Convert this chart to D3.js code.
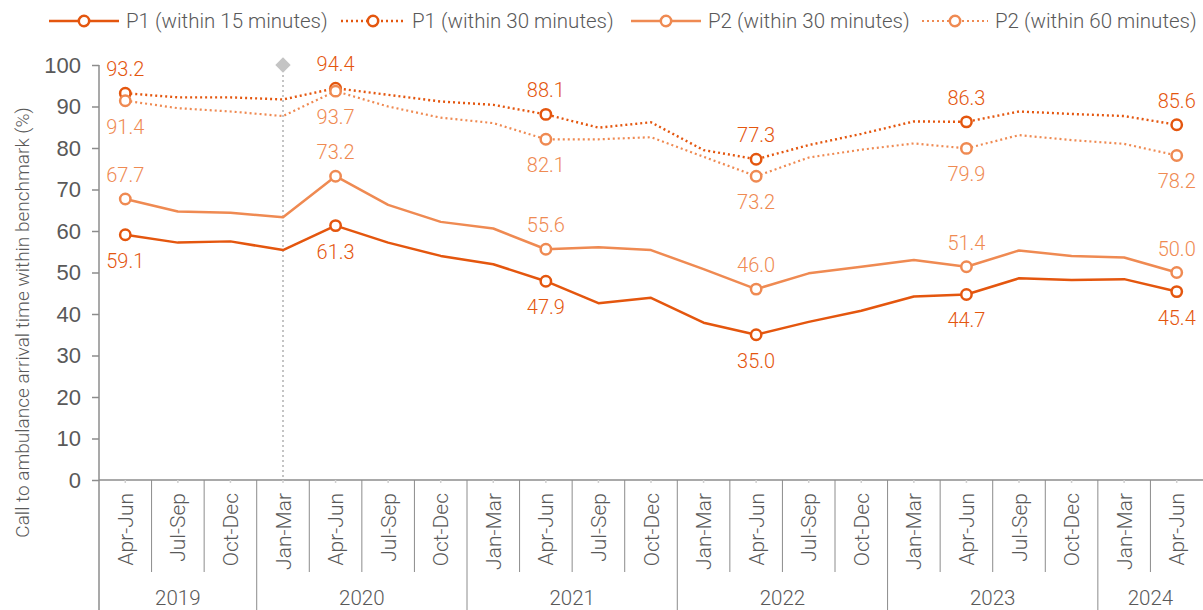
<!DOCTYPE html>
<html>
<head>
<meta charset="utf-8">
<script src="https://cdn.jsdelivr.net/npm/d3@7"></script>
<style>
  html, body { margin: 0; padding: 0; background: #fff; }
  svg { display: block; font-family: Roboto, "Liberation Sans", Arial, sans-serif; font-weight: 300; }
</style>
</head>
<body>
<div id="chart"></div>
<script>
"use strict";

// ── data ─────────────────────────────────────────────────────────────────────
const quarterLabels = [
  "Apr-Jun", "Jul-Sep", "Oct-Dec",
  "Jan-Mar", "Apr-Jun", "Jul-Sep", "Oct-Dec",
  "Jan-Mar", "Apr-Jun", "Jul-Sep", "Oct-Dec",
  "Jan-Mar", "Apr-Jun", "Jul-Sep", "Oct-Dec",
  "Jan-Mar", "Apr-Jun", "Jul-Sep", "Oct-Dec",
  "Jan-Mar", "Apr-Jun",
];
const yearLabels      = ["2019", "2020", "2021", "2022", "2023", "2024"];
const quartersPerYear = [3, 4, 4, 4, 4, 2];

const p1Within15 = [59.1, 57.2, 57.5, 55.4, 61.3, 57.2, 54.0, 52.0, 47.9, 42.6, 43.9,
                    37.9, 35.0, 38.1, 40.8, 44.2, 44.7, 48.6, 48.2, 48.4, 45.4];
const p1Within30 = [93.2, 92.2, 92.2, 91.7, 94.4, 92.8, 91.2, 90.4, 88.1, 84.9, 86.2,
                    79.5, 77.3, 80.7, 83.4, 86.4, 86.3, 88.8, 88.2, 87.7, 85.6];
const p2Within30 = [67.7, 64.7, 64.4, 63.3, 73.2, 66.3, 62.2, 60.6, 55.6, 56.1, 55.4,
                    50.8, 46.0, 49.8, 51.4, 53.0, 51.4, 55.3, 54.0, 53.6, 50.0];
const p2Within60 = [91.4, 89.6, 88.8, 87.7, 93.7, 90.0, 87.3, 86.0, 82.1, 82.1, 82.6,
                    77.9, 73.2, 77.7, 79.6, 81.1, 79.9, 83.1, 81.9, 81.0, 78.2];

const labelledIdx   = [0, 4, 8, 12, 16, 20];   // Apr-Jun each year
const markerLineIdx = 3;                        // Jan-Mar 2020 reference line
const yTicks = [0, 10, 20, 30, 40, 50, 60, 70, 80, 90, 100];

const P1_COLOR = "#e4560e";
const P2_COLOR = "#ef8a52";

const series = [
  { name: "P1 (within 15 minutes)", values: p1Within15, color: P1_COLOR, dash: null,  labelPos: "below", width: 2.5 },
  { name: "P1 (within 30 minutes)", values: p1Within30, color: P1_COLOR, dash: "2,3", labelPos: "above", width: 2.4 },
  { name: "P2 (within 30 minutes)", values: p2Within30, color: P2_COLOR, dash: null,  labelPos: "above", width: 2.5 },
  { name: "P2 (within 60 minutes)", values: p2Within60, color: P2_COLOR, dash: "2,3", labelPos: "below", width: 2.2 },
];

// ── layout ───────────────────────────────────────────────────────────────────
const W = 1203, H = 610;
const margin = { left: 99, right: 0, top: 65, axisY: 480 };
const AXIS_GREY = "#8c8c8c";
const TEXT_GREY = "#595959";

const svg = d3.select("#chart").append("svg")
  .attr("width", W).attr("height", H)
  .attr("viewBox", `0 0 ${W} ${H}`);

const idx = quarterLabels.map((_, i) => i);
const x = d3.scaleBand().domain(idx).range([margin.left, W - margin.right]).padding(0);
const cx = i => x(i) + x.bandwidth() / 2;
const y = d3.scaleLinear().domain([0, 100]).range([margin.axisY, margin.top]);

// ── reference line (Jan-Mar 2020) ────────────────────────────────────────────
svg.append("line")
  .attr("x1", cx(markerLineIdx)).attr("x2", cx(markerLineIdx))
  .attr("y1", y(100)).attr("y2", y(0))
  .attr("stroke", "#c4c4c4").attr("stroke-width", 2)
  .attr("stroke-dasharray", "2,3");
svg.append("path")
  .attr("d", d3.symbol().type(d3.symbolDiamond2).size(150)())
  .attr("transform", `translate(${cx(markerLineIdx)},${y(100)})`)
  .attr("fill", "#c4c4c4");

// ── y axis ───────────────────────────────────────────────────────────────────
svg.append("g")
  .attr("transform", `translate(${margin.left},0)`)
  .call(d3.axisLeft(y).tickValues(yTicks).tickSize(7).tickPadding(11).tickFormat(d3.format("d")))
  .call(ax => {
    ax.select(".domain").attr("stroke", AXIS_GREY).attr("stroke-width", 1.5)
      .attr("d", `M0,${y(100)}V${H}`);
    ax.selectAll(".tick line").attr("stroke", AXIS_GREY).attr("stroke-width", 1.5);
    ax.selectAll("text").attr("fill", TEXT_GREY).attr("font-size", 22)
      .attr("font-family", null);
  });

svg.append("text")
  .attr("transform", `translate(29,${(y(0) + y(100)) / 2 + 50}) rotate(-90)`)
  .attr("text-anchor", "middle")
  .attr("fill", TEXT_GREY).attr("font-size", 19)
  .text("Call to ambulance arrival time within benchmark (%)");

// ── x axis (two-level categories) ────────────────────────────────────────────
svg.append("g")
  .attr("transform", `translate(0,${margin.axisY})`)
  .call(d3.axisBottom(x).tickSize(3).tickFormat(""))
  .call(ax => {
    ax.select(".domain").attr("stroke", AXIS_GREY).attr("stroke-width", 1.5)
      .attr("d", `M${margin.left},0H${W}`);
    ax.selectAll(".tick line").attr("stroke", "#d0d0d0").attr("stroke-width", 1.5);
  });

// quarter separators
const yearStarts = d3.cumsum([0, ...quartersPerYear]).slice(0, -1);
svg.append("g").selectAll("line")
  .data(idx.filter(i => i > 0))
  .join("line")
  .attr("x1", i => x(i)).attr("x2", i => x(i))
  .attr("y1", margin.axisY)
  .attr("y2", i => yearStarts.includes(i) ? H : 572)
  .attr("stroke", AXIS_GREY).attr("stroke-width", 1);

// quarter labels
svg.append("g").selectAll("text")
  .data(idx)
  .join("text")
  .attr("transform", i => `translate(${cx(i) + 7.5},493) rotate(-90)`)
  .attr("text-anchor", "end")
  .attr("fill", TEXT_GREY).attr("font-size", 21)
  .text(i => quarterLabels[i]);

// year labels
svg.append("g").selectAll("text")
  .data(yearLabels)
  .join("text")
  .attr("x", (d, k) => {
    const a = x(yearStarts[k]);
    const b = x(yearStarts[k] + quartersPerYear[k] - 1) + x.bandwidth();
    return (a + b) / 2;
  })
  .attr("y", 605)
  .attr("text-anchor", "middle")
  .attr("fill", TEXT_GREY).attr("font-size", 20.5)
  .text(d => d);

// ── lines, markers, labels ───────────────────────────────────────────────────
const line = d3.line().x((d, i) => cx(i)).y(d => y(d));

series.forEach(s => {
  svg.append("path").datum(s.values)
    .attr("fill", "none")
    .attr("stroke", s.color)
    .attr("stroke-width", s.width)
    .attr("stroke-dasharray", s.dash)
    .attr("stroke-linejoin", "round")
    .attr("d", line);
});

series.forEach(s => {
  const g = svg.append("g");
  g.selectAll("circle").data(labelledIdx).join("circle")
    .attr("cx", i => cx(i)).attr("cy", i => y(s.values[i]))
    .attr("r", 5.2)
    .attr("fill", "#fff")
    .attr("stroke", s.color).attr("stroke-width", 2.5);
  g.selectAll("text").data(labelledIdx).join("text")
    .attr("x", i => cx(i))
    .attr("y", i => y(s.values[i]) + (s.labelPos === "above" ? -24 : 26))
    .attr("dy", "0.35em")
    .attr("text-anchor", "middle")
    .attr("fill", s.color).attr("font-size", 20)
    .text(i => s.values[i].toFixed(1));
});

// ── legend ───────────────────────────────────────────────────────────────────
const legendX   = [49, 341, 631, 922];
const legendLen = [70, 64, 70, 66];
const legend = svg.append("g").attr("transform", "translate(0,21)");
series.forEach((s, k) => {
  const g = legend.append("g").attr("transform", `translate(${legendX[k]},0)`);
  g.append("line")
    .attr("x1", 0).attr("x2", legendLen[k])
    .attr("stroke", s.color).attr("stroke-width", s.width)
    .attr("stroke-dasharray", s.dash);
  g.append("circle")
    .attr("cx", legendLen[k] / 2).attr("cy", 0).attr("r", 5.2)
    .attr("fill", "#fff").attr("stroke", s.color).attr("stroke-width", 2.5);
  g.append("text")
    .attr("x", legendLen[k] + 7).attr("dy", "0.35em")
    .attr("fill", TEXT_GREY).attr("font-size", 20.5)
    .text(s.name);
});
</script>
</body>
</html>
